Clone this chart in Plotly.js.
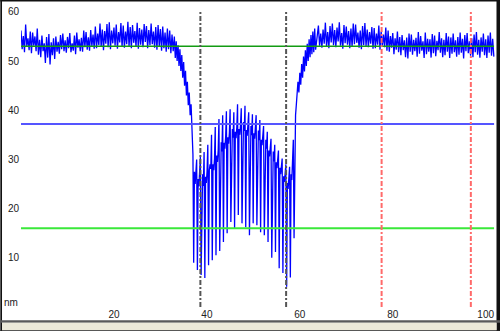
<!DOCTYPE html>
<html>
<head>
<meta charset="utf-8">
<script src="https://cdn.plot.ly/plotly-3.0.1.min.js"></script>
<style>
html,body{margin:0;padding:0;background:#fff;}
#chart{width:500px;height:331px;}
</style>
</head>
<body>
<div id="chart"></div>
<script>
// ---- data ----
// signal segments: start x, step, y values
const seg1Start = 0, seg1Step = 0.25;
const seg1Y = [
  56.2,52.4,55.1,51.8, 57.4,53.0,54.6,52.2, 56.0,51.6,55.8,53.1, 55.0,52.0,56.6,51.3,
  54.3,50.8,55.2,52.0, 53.6,49.6,54.9,50.7, 55.5,49.3,53.8,51.2, 54.6,50.4,55.0,51.9,
  53.9,51.5,55.3,52.4, 55.6,52.0,54.2,51.7, 54.9,52.6,55.7,51.8, 53.6,52.1,55.2,51.4,
  55.8,52.7,54.4,52.0, 54.7,51.9,56.2,52.8, 55.9,52.3,54.8,52.1, 56.3,53.0,55.4,52.5,
  57.0,52.6,55.6,53.2, 57.6,52.9,56.4,52.2, 56.1,53.5,57.5,52.8, 57.9,52.4,56.2,53.6,
  56.8,53.1,57.4,52.5, 55.9,53.8,57.7,52.9, 57.2,52.7,56.0,53.4, 58.0,53.0,56.9,52.6,
  57.3,53.7,56.1,52.9, 57.8,52.5,56.7,53.3, 56.4,52.8,57.5,53.9, 57.1,52.6,56.3,53.2,
  57.6,53.4,56.0,52.7, 56.9,52.3,57.3,53.0, 56.5,52.1,57.0,52.6, 55.8,51.9,56.6,52.4,
  56.2,51.6,55.4,52.0, 55.0];
const seg2Start = 33.2, seg2Step = 0.2;
const seg2Y = [50.6,54.0,50.0,53.2,49.0,52.4,48.0,51.2,46.6,49.8,45.0,48.0,43.0,45.8,41.0,43.6,39.0,41.2,37.0];
const seg3Start = 37.0, seg3Step = 0.16;
const seg3Y = [
  31,9,27.5,25,28.4,     30,7.5,26,24.5,27.2,     30.5,6.5,25.5,27,24.6,   31.5,5.9,26.5,25.2,27.6,
  33,8.5,27.8,29,28.1,   35,9.5,29,27.8,30.2,     36.6,10.5,30.8,29.5,31.9, 38.2,11.4,32.2,33.5,31.6,
  39,13.2,33.4,32.2,34.6, 39.8,15,34.5,33.2,35.4, 40.2,17.3,35,36.2,34.4,  39.6,16,35.6,34.3,36.5,
  41.2,18.7,36.2,35,37.1, 40.4,17,36.5,37.6,35.8, 40.9,16.2,36,34.8,37,    39.6,14.6,35.6,36.8,34.9,
  39.2,17,35.3,34.2,36.3, 39,16.6,34.8,35.9,33.9, 38,15.2,34,32.9,35,      36.8,14.6,33,34,32.2,
  35.6,13.2,31.8,30.6,32.7, 34.2,10,30.5,31.6,29.6, 33,11.2,29.4,28.2,30.3, 31.8,7.9,28.3,27,29.1,
  30.2,6.9,26.6,25.4,27.5, 29,4.1,25.2,24,26.1,  28.5,6,27,25.8,30,       34,14,37,39,41];
const seg4Start = 59.4, seg4Step = 0.2;
const seg4Y = [43.0,45.8,43.6,47.6,45.2,49.4,46.6,50.9,47.9,52.2,49.0,53.5,50.0,54.4,50.8,55.3,51.4,56.0,51.8,56.6,52.3];
const seg5Start = 64, seg5Step = 0.25;
const seg5Y = [
  57.2,53.1,55.6,52.7, 56.4,53.5,57.8,52.9, 55.9,52.6,57.1,53.8, 57.6,53.2,56.3,52.8,
  56.8,54.0,57.9,53.1, 55.7,52.5,57.3,53.6, 57.0,53.3,56.1,52.6, 56.6,52.9,57.6,53.4,
  57.4,53.7,55.8,52.7, 56.2,52.4,57.1,53.2, 57.7,53.0,56.4,52.8, 55.9,53.5,56.9,52.5,
  56.7,52.6,55.6,53.3, 57.2,52.3,56.0,53.0, 55.4,52.8,56.8,52.1, 56.2,51.9,55.1,52.7,
  55.7,51.4,54.6,52.3, 56.0,51.8,54.9,51.2, 55.3,52.2,54.2,50.8, 54.8,50.5,55.6,51.9,
  55.4,51.3,54.3,52.0, 54.7,50.9,55.9,51.5, 55.1,52.1,54.0,50.6, 55.8,51.4,54.5,51.9,
  54.4,50.7,55.5,51.6, 55.2,51.0,54.1,52.2, 55.9,51.7,54.6,50.8, 54.3,51.2,55.7,51.9,
  55.0,50.6,54.8,51.5, 55.6,51.8,54.2,50.9, 54.9,51.3,55.8,51.7, 54.5,50.5,55.3,52.0,
  55.7,51.6,54.0,51.1, 54.6,50.8,55.4,51.8, 55.9,51.3,54.3,50.7, 54.8,51.9,55.6,51.2,
  54.4,50.6,55.2,51.7, 55.8,51.1,54.5,50.9];

// reference levels and markers
const hLevels = [53.0, 37.2, 16.0];
const hColors = ['#139b13', '#5555ff', '#3ae83a'];
const hWidths = [1.3, 2, 2];
const hSpan = [0, 101.8];
const blackMarks = [38.6, 57.05];
const redMarks = [77.6, 96.8];
const vSpan = [0, 60];
const xTicks = [20, 40, 60, 80, 100];
const yTicks = [10, 20, 30, 40, 50, 60];
const unitLabel = 'nm';

// ---- build signal ----
const sx = [], sy = [];
[[seg1Start,seg1Step,seg1Y],[seg2Start,seg2Step,seg2Y],[seg3Start,seg3Step,seg3Y],
 [seg4Start,seg4Step,seg4Y],[seg5Start,seg5Step,seg5Y]].forEach(([s,d,ys])=>{
  ys.forEach((v,i)=>{ sx.push(+(s + i*d).toFixed(3)); sy.push(v); });
});

const traces = [{
  x: sx, y: sy, type: 'scatter', mode: 'lines',
  line: {color: '#0000ff', width: 1.3}, hoverinfo: 'skip'
}];
hLevels.forEach((v,i)=>traces.push({
  x: hSpan, y: [v, v], type: 'scatter', mode: 'lines',
  line: {color: hColors[i], width: hWidths[i]}, hoverinfo: 'skip'
}));
blackMarks.forEach(v=>traces.push({
  x: [v, v], y: vSpan, type: 'scatter', mode: 'lines',
  line: {color: '#555555', width: 2, dash: '5px,2px,2px,2px'}, hoverinfo: 'skip'
}));
redMarks.forEach(v=>traces.push({
  x: [v, v], y: vSpan, type: 'scatter', mode: 'lines',
  line: {color: '#ff6a6a', width: 2, dash: '5px,2px,2px,2px'}, hoverinfo: 'skip'
}));

// ---- frame (pixel -> paper helpers) ----
const L = 20.7, T = 2.1, W = 474.3, H = 304.7;
const px = p => (p - L) / W;
const py = q => (T + H - q) / H;
function rect(x0,y0,x1,y1,color){
  return {type:'rect', xref:'paper', yref:'paper', x0:px(x0), x1:px(x1), y0:py(y1), y1:py(y0),
          fillcolor:color, line:{width:0}, layer:'above'};
}
const shapes = [
  rect(0,0,500,1.7,'#111'),
  rect(0,0,1.7,331,'#111'),
  rect(496.5,0,500,331,'#111'),
  rect(0,320,500,322.5,'#5a5a5a'),
  rect(1.7,322.5,496.5,330,'#ece9d8'),
  rect(0,330,500,331,'#222')
];

const tickFont = {family: 'Liberation Sans Narrow, Liberation Sans, Arial, sans-serif', size: 10, color: '#222'};

const layout = {
  width: 500, height: 331,
  margin: {l: L, r: 500 - L - W, t: T, b: 331 - T - H, pad: 0},
  paper_bgcolor: '#ffffff', plot_bgcolor: '#ffffff',
  showlegend: false,
  xaxis: {range: [0, 102], tickvals: xTicks, ticktext: xTicks.map(String),
          showgrid: false, zeroline: false, showline: false, ticks: '',
          tickfont: tickFont, fixedrange: true},
  yaxis: {range: [0, 62], tickvals: yTicks, ticktext: yTicks.map(String),
          showgrid: false, zeroline: false, showline: false, ticks: '',
          tickfont: tickFont, ticklabelstandoff: 1, fixedrange: true},
  shapes: shapes,
  annotations: [{text: unitLabel, xref: 'paper', yref: 'paper', x: px(10.5), y: py(302),
                 xanchor: 'center', yanchor: 'middle', showarrow: false, font: tickFont}]
};

Plotly.newPlot('chart', traces, layout, {displayModeBar: false, staticPlot: true});
</script>
</body>
</html>
